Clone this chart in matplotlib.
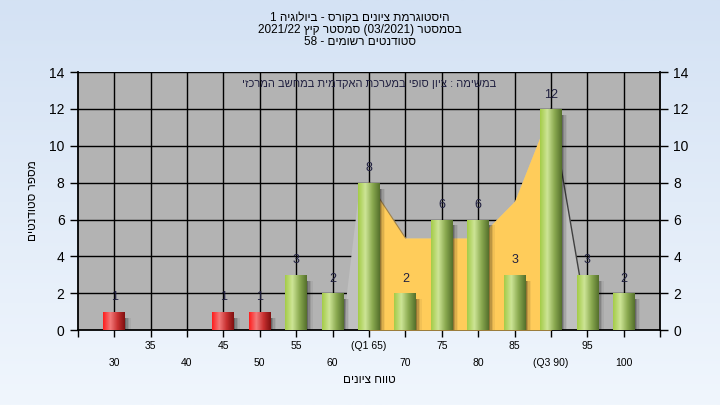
import re
import numpy as np
import matplotlib
matplotlib.use('Agg')
import matplotlib.pyplot as plt
from matplotlib.colors import LinearSegmentedColormap

plt.rcParams['font.family'] = ['Liberation Sans', 'DejaVu Sans']

# data
grades = [30, 35, 40, 45, 50, 55, 60, 65, 70, 75, 80, 85, 90, 95, 100]
counts = [1, 0, 0, 1, 1, 3, 2, 8, 2, 6, 6, 3, 12, 3, 2]
tick_text = ['30', '35', '40', '45', '50', '55', '60', '(Q1 65)', '70', '75',
             '80', '85', '(Q3 90)', '95', '100']
pass_grade = 55

# background areas (grade, value)
shade_grades = [61.5, 61.9, 63.7, 65, 70, 75, 80, 85, 90, 93.9]
shade_vals = [0, 2, 8, 8, 5, 5, 5, 7, 12, 3]
iqr_grades = [65, 70, 75, 80, 85, 90]
iqr_vals = [8, 5, 5, 5, 7, 12]

title_lines = ['היסטוגרמת ציונים בקורס - ביולוגיה 1',
               'בסמסטר (03/2021) סמסטר קיץ 2021/22',
               'סטודנטים רשומים - 58']
note = 'במשימה : ציון סופי במערכת האקדמית במחשב המרכזי'
xlab = 'טווח ציונים'
ylab = 'מספר סטודנטים'


def heb(s):
    # simple visual ordering for right-to-left text
    r = s[::-1]
    r = re.sub(r'[0-9A-Za-z/.]+', lambda m: m.group(0)[::-1], r)
    return r.translate(str.maketrans('()', ')('))


def pos(g):
    return (np.asarray(g, dtype=float) - grades[0]) / 5.0


fig = plt.figure(figsize=(7.2, 4.05), dpi=100)

# light blue gradient behind everything
bg = fig.add_axes([0, 0, 1, 1], zorder=-10)
top = np.array([212, 226, 244]) / 255
bot = np.array([240, 246, 253]) / 255
t = np.linspace(0, 1, 256)[:, None]
bg.imshow((top * (1 - t) + bot * t)[:, None, :], aspect='auto', extent=[0, 1, 0, 1])
bg.axis('off')

ax = fig.add_axes([0.108, 0.185, 0.809, 0.637])
ax.set_facecolor('#b3b3b3')

x = np.arange(len(grades))

# grid
for i in x:
    ax.axvline(i, color='black', lw=1, zorder=1)
for v in range(2, 15, 2):
    ax.axhline(v, color='black', lw=1, zorder=1)

# areas
ax.fill_between(pos(shade_grades), shade_vals, 0, color='#c0c0c0', lw=0, zorder=2)
ax.plot(pos(shade_grades[-2:]), shade_vals[-2:], color='#404040', lw=1, zorder=2.5)
ax.fill_between(pos(iqr_grades), iqr_vals, 0, color='#ffcc5a', lw=0, zorder=3)
ax.plot(pos(iqr_grades[:2]), iqr_vals[:2], color='#9a8050', lw=0.8, zorder=3)

green = LinearSegmentedColormap.from_list('g', ['#a4cc48', '#cde496', '#8aaa50', '#55702c'])
red = LinearSegmentedColormap.from_list('r', ['#ff1e1e', '#f27a7a', '#c83030', '#801010'])
grad = np.linspace(0, 1, 64)[None, :]

w = 0.6
for i, (g, c) in enumerate(zip(grades, counts)):
    if c == 0:
        continue
    # soft shadow
    for off, a in [(0.03, 0.22), (0.07, 0.14), (0.11, 0.09), (0.15, 0.05)]:
        ax.bar(i + off, c - 0.2, w, bottom=-0.12, color='black', alpha=a,
               lw=0, zorder=4)
    rect = ax.bar(i, c, w, color='none', lw=0, zorder=5)[0]
    cm = red if g < pass_grade else green
    im = ax.imshow(grad, extent=[i - w / 2, i + w / 2, 0, c], aspect='auto',
                   cmap=cm, zorder=5)
    im.set_clip_path(rect)
    ax.annotate(str(c), (i, c), xytext=(0, 6), textcoords='offset points',
                ha='center', va='bottom', fontsize=9, color='#202040', zorder=6)

ax.set_xlim(-1, 15)
ax.set_ylim(0, 14)

ax.set_xticks(range(-1, 16))
labels = ['']
for i, s in enumerate(tick_text):
    labels.append(s if i % 2 else '\n' + s)
labels.append('')
ax.set_xticklabels(labels, fontsize=7.5, linespacing=1.8)
ax.tick_params(axis='x', direction='out', length=5, width=1, pad=3)

ax.set_yticks(range(0, 15, 2))
ax.tick_params(axis='y', left=True, right=True, labelleft=True, labelright=True,
               direction='out', length=6, width=1, labelsize=10)

for s in ['left', 'right', 'bottom']:
    ax.spines[s].set_color('black')
    ax.spines[s].set_linewidth(1.3)
ax.spines['top'].set_visible(False)

ax.text(0.5, 0.955, heb(note), transform=ax.transAxes, ha='center', va='center',
        fontsize=8, color='#202040', zorder=7)

for k, line in enumerate(title_lines):
    fig.text(0.5, 1 - (18 + 12 * k) / 405, heb(line), ha='center', va='center',
             fontsize=8.5, color='black')

fig.text(369 / 720, 1 - 380 / 405, heb(xlab), ha='center', va='center', fontsize=8.5)
fig.text(33 / 720, 1 - 201 / 405, heb(ylab), ha='center', va='center', fontsize=8.5,
         rotation=90)

fig.savefig('out.png', dpi=100)
